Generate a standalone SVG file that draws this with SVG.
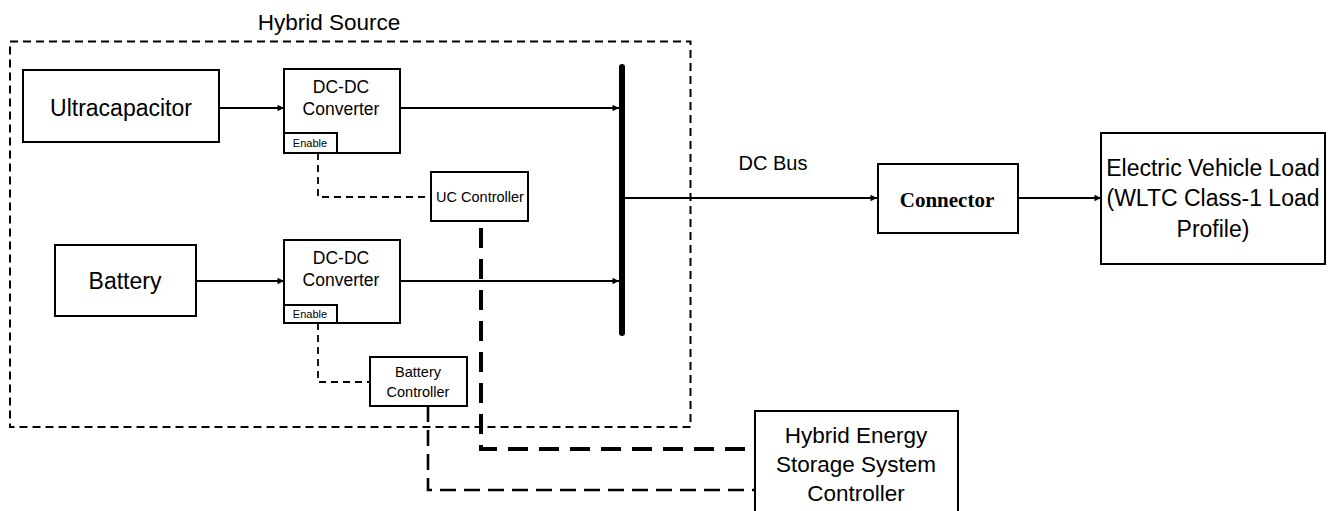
<svg xmlns="http://www.w3.org/2000/svg" width="1333" height="511" viewBox="0 0 1333 511">
  <style>
    .box { fill: #ffffff; stroke: #000000; stroke-width: 2; }
    .lbl { font-family: "Liberation Sans", Arial, sans-serif; fill: #000000; text-anchor: middle; }
    .wire { fill: none; stroke: #000000; stroke-width: 2; }
    .ctl-thin { fill: none; stroke: #000000; stroke-width: 1.8; stroke-dasharray: 7 5; }
    .ctl-mid { fill: none; stroke: #000000; stroke-width: 2.6; stroke-dasharray: 16 8; }
    .ctl-thick { fill: none; stroke: #000000; stroke-width: 4; stroke-dasharray: 20 11; }
  </style>
  <defs>
    <marker id="arrow" viewBox="0 0 10 10" refX="10" refY="5" markerWidth="7" markerHeight="6.5" orient="auto" markerUnits="userSpaceOnUse">
      <path d="M0,0 L10,5 L0,10 Z" fill="#000000"/>
    </marker>
  </defs>

  <rect width="1333" height="511" fill="#ffffff"/>

  <!-- Hybrid source enclosure -->
  <g id="hybrid-source">
    <rect x="10" y="41.5" width="680.5" height="385.5" fill="none" stroke="#000000" stroke-width="2" stroke-dasharray="8 5"/>
    <text class="lbl" x="329" y="30" font-size="22.5">Hybrid Source</text>
  </g>

  <!-- Connectors -->
  <g id="connectors">
    <line class="wire" x1="219" y1="108" x2="284" y2="108" marker-end="url(#arrow)"/>
    <line class="wire" x1="400" y1="108" x2="619" y2="108" marker-end="url(#arrow)"/>
    <line class="wire" x1="196" y1="281" x2="284" y2="281" marker-end="url(#arrow)"/>
    <line class="wire" x1="400" y1="281" x2="619" y2="281" marker-end="url(#arrow)"/>
    <line class="wire" x1="622" y1="198" x2="877" y2="198" marker-end="url(#arrow)"/>
    <line class="wire" x1="1018" y1="198" x2="1101" y2="198" marker-end="url(#arrow)"/>
    <!-- enable signals -->
    <polyline class="ctl-thin" points="318,153 318,197 431,197"/>
    <polyline class="ctl-thin" points="318,323 318,382 370,382"/>
    <!-- supervisory links -->
    <polyline class="ctl-thick" points="481,228 481,449 755,449"/>
    <polyline class="ctl-mid" points="428,406 428,490 755,490"/>
  </g>

  <!-- DC bus bar -->
  <g id="dc-bus">
    <line x1="622" y1="67" x2="622" y2="333" stroke="#000000" stroke-width="6" stroke-linecap="round"/>
    <text class="lbl" x="773" y="170" font-size="20">DC Bus</text>
  </g>

  <g id="ultracapacitor">
    <rect class="box" x="23" y="70" width="196" height="72"/>
    <text class="lbl" x="121" y="116" font-size="23">Ultracapacitor</text>
  </g>

  <g id="uc-converter">
    <rect class="box" x="284" y="69" width="116" height="84"/>
    <text class="lbl" x="341" y="93" font-size="17.5">DC-DC</text>
    <text class="lbl" x="341" y="115" font-size="17.5">Converter</text>
    <rect class="box" x="284" y="133" width="53" height="20"/>
    <text class="lbl" x="310" y="147" font-size="11">Enable</text>
  </g>

  <g id="uc-controller">
    <rect class="box" x="431" y="172" width="97" height="49"/>
    <text class="lbl" x="480" y="202" font-size="14.5">UC Controller</text>
  </g>

  <g id="battery">
    <rect class="box" x="55" y="245" width="141" height="71"/>
    <text class="lbl" x="125" y="289" font-size="23">Battery</text>
  </g>

  <g id="battery-converter">
    <rect class="box" x="284" y="240" width="116" height="83"/>
    <text class="lbl" x="341" y="264" font-size="17.5">DC-DC</text>
    <text class="lbl" x="341" y="286" font-size="17.5">Converter</text>
    <rect class="box" x="284" y="305" width="53" height="18"/>
    <text class="lbl" x="310" y="318" font-size="11">Enable</text>
  </g>

  <g id="battery-controller">
    <rect class="box" x="370" y="357" width="97" height="49"/>
    <text class="lbl" x="418" y="377" font-size="14.5">Battery</text>
    <text class="lbl" x="418" y="397" font-size="14.5">Controller</text>
  </g>

  <g id="connector">
    <rect class="box" x="878" y="164" width="140" height="69"/>
    <text x="947" y="207" font-size="21" font-weight="bold" font-family="'Liberation Serif', 'Times New Roman', serif" text-anchor="middle">Connector</text>
  </g>

  <g id="ev-load">
    <rect class="box" x="1101" y="133" width="224" height="131"/>
    <text class="lbl" x="1213" y="176" font-size="23">Electric Vehicle Load</text>
    <text class="lbl" x="1213" y="206" font-size="23">(WLTC Class-1 Load</text>
    <text class="lbl" x="1213" y="237" font-size="23">Profile)</text>
  </g>

  <g id="hess-controller">
    <rect class="box" x="755" y="411" width="203" height="110"/>
    <text class="lbl" x="856" y="443" font-size="22.5">Hybrid Energy</text>
    <text class="lbl" x="856" y="472" font-size="22.5">Storage System</text>
    <text class="lbl" x="856" y="501" font-size="22.5">Controller</text>
  </g>
</svg>
